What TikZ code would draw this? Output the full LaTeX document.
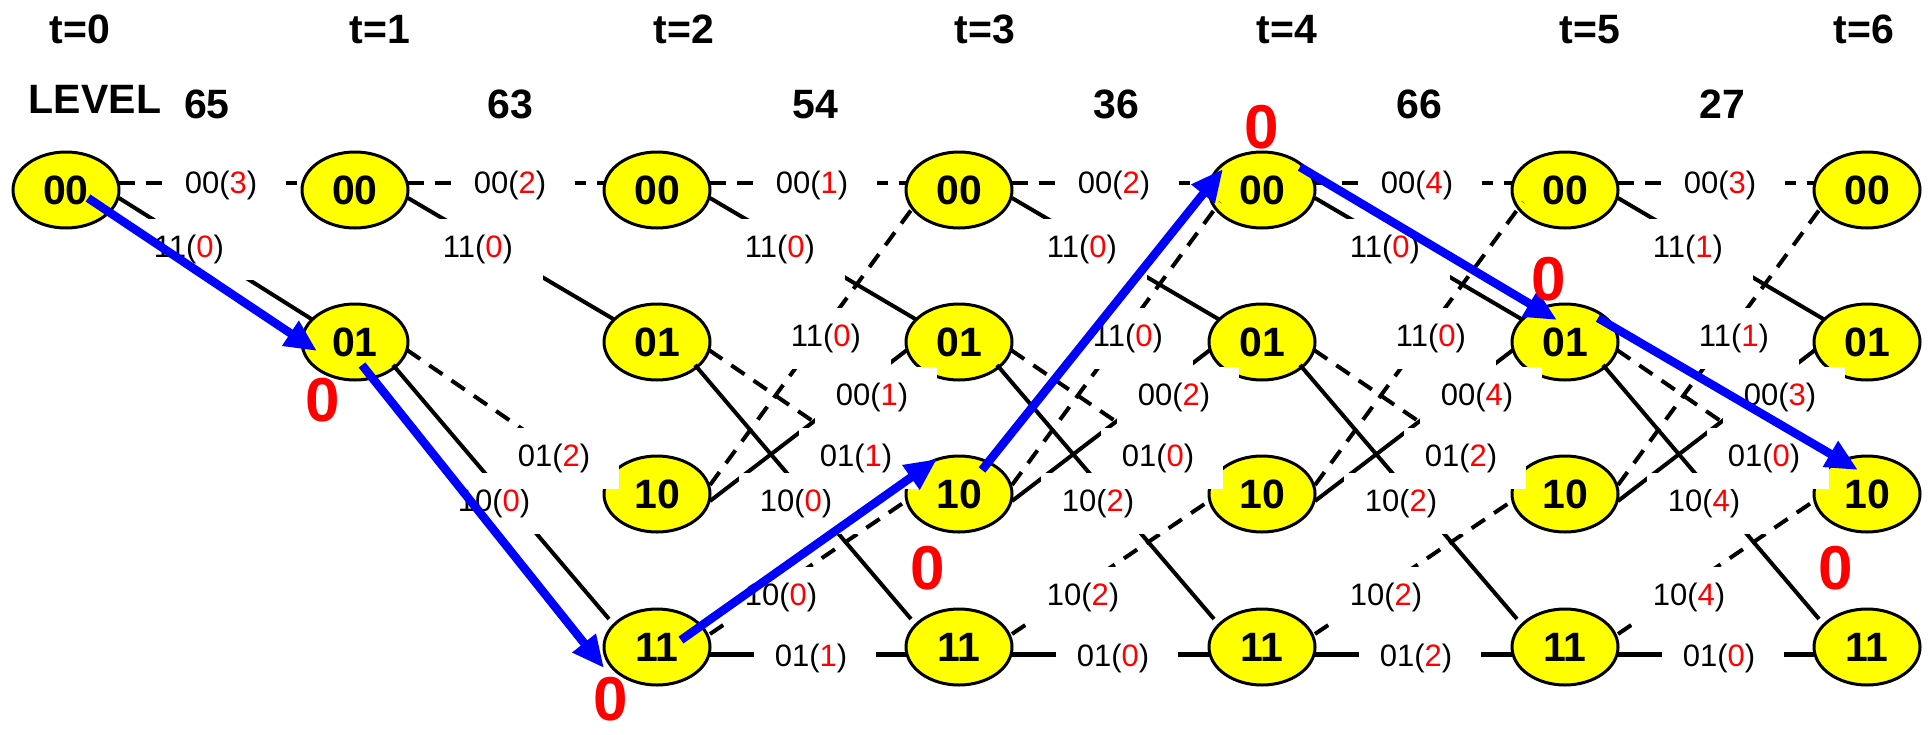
\documentclass[tikz,border=0pt]{standalone}
\usepackage{fontspec}
\setmainfont{Liberation Sans}
\usetikzlibrary{arrows.meta,shapes.geometric}
\definecolor{ylw}{RGB}{255,255,0}
\definecolor{rd}{RGB}{255,0,0}
\definecolor{bl}{RGB}{0,0,255}
\newcommand\lbx[5]{\node[lab] (#1) at (#2+4,#3+2) {\hspace{-8pt}#4(\textcolor{rd}{#5})};}
\begin{document}
\begin{tikzpicture}[x=1pt,y=-1pt,
  st/.style={ellipse, draw=black, line width=3pt, fill=ylw, minimum width=106pt, minimum height=76pt, inner sep=0pt, font=\fontsize{41}{41}\selectfont\bfseries},
  sol/.style={line width=4pt, draw=black},
  hsol/.style={line width=5pt, draw=black},
  dsh/.style={line width=4pt, draw=black, dash pattern=on 16pt off 11pt},
  hdsh/.style={line width=4.5pt, draw=black, dash pattern=on 16pt off 11pt},
  lab/.style={fill=white, inner sep=0pt, minimum width=122pt, minimum height=61pt, font=\fontsize{31}{31}\selectfont},
  hd/.style={font=\fontsize{41}{41}\selectfont\bfseries, anchor=base, inner sep=0pt},
  zr/.style={font=\fontsize{62}{62}\selectfont\bfseries, text=rd, inner sep=0pt},
  vpath/.style={line width=8.5pt, draw=bl, -{Triangle[length=32pt,width=28pt]}}]
\useasboundingbox (0,0) rectangle (1930,734);
% states
\node[st] (nA0) at (66,190) {00};
\foreach \k/\x in {1/355,2/657,3/959,4/1262,5/1565,6/1867}{
  \node[st] (nA\k) at (\x,190) {00};
  \node[st] (nB\k) at (\x,342) {01};
}
\foreach \k/\x in {2/657,3/959,4/1262,5/1565,6/1867}{
  \node[st] (nC\k) at (\x,494) {10};
  \node[st] (nD\k) at (\x,647) {11};
}
% transitions
\foreach \k/\j in {0/1,1/2,2/3,3/4,4/5,5/6}{
  \draw[hdsh] ([shift={(53,-7)}]nA\k.center) -- ([shift={(-53,-7)}]nA\j.center);
  \draw[sol] ([shift={(53,8)}]nA\k.center) -- ([shift={(-42,-22)}]nB\j.center);
}
\foreach \k/\j in {1/2,2/3,3/4,4/5,5/6}{
  \draw[dsh] ([shift={(52,8)}]nB\k.center) -- ([shift={(-53,-9)}]nC\j.center);
  \draw[sol] ([shift={(38,23)}]nB\k.center) -- ([shift={(-48,-28)}]nD\j.center);
}
\foreach \k/\j in {2/3,3/4,4/5,5/6}{
  \draw[dsh] ([shift={(53,-9)}]nC\k.center) -- ([shift={(-42,12)}]nA\j.center);
  \draw[sol] ([shift={(53,7)}]nC\k.center) -- ([shift={(-52,8)}]nB\j.center);
  \draw[dsh] ([shift={(53,-13)}]nD\k.center) -- ([shift={(-53,7)}]nC\j.center);
  \draw[hsol] ([shift={(53,7)}]nD\k.center) -- ([shift={(-53,7)}]nD\j.center);
}
% labels
\lbx{la0}{66+155}{183}{00}{3}
\lbx{lb0}{66+123}{247}{11}{0}
\lbx{la1}{355+155}{183}{00}{2}
\lbx{lb1}{355+123}{247}{11}{0}
\lbx{lf1}{355+139}{501}{10}{0}
\lbx{le1}{355+199}{456}{01}{2}
\foreach \k/\x/\va/\vb/\vc/\vd/\ve/\vf/\vg/\vh in
  {2/657/1/0/0/1/1/0/0/1, 3/959/2/0/0/2/0/2/2/0, 4/1262/4/0/0/4/2/2/2/2, 5/1565/3/1/1/3/0/4/4/0}{
  \lbx{la\k}{\x+155}{183}{00}{\va}
  \lbx{lb\k}{\x+123}{247}{11}{\vb}
  \lbx{lc\k}{\x+169}{336}{11}{\vc}
  \lbx{ld\k}{\x+215}{395}{00}{\vd}
  \lbx{lf\k}{\x+139}{501}{10}{\vf}
  \lbx{le\k}{\x+199}{456}{01}{\ve}
  \lbx{lg\k}{\x+124}{595}{10}{\vg}
  \lbx{lh\k}{\x+154}{656}{01}{\vh}
}
% survivor path
\draw[vpath] ([shift={(22,8)}]nA0.center) -- ([shift={(-38,9)}]nB1.center);
\draw[vpath] ([shift={(7,23)}]nB1.center) -- ([shift={(-53,21)}]nD2.center);
\draw[vpath] ([shift={(24,-7)}]nD2.center) -- ([shift={(-22,-35)}]nC3.center);
\draw[vpath] ([shift={(23,-24)}]nC3.center) -- ([shift={(-39,-21)}]nA4.center);
\draw[vpath] ([shift={(38,-23)}]nA4.center) -- ([shift={(-8,-22)}]nB5.center);
\draw[vpath] ([shift={(33,-24)}]nB5.center) -- ([shift={(-9,-24)}]nC6.center);
% headings
\node[hd] (t0) at (80,43) {t=0};
\node[hd] (t1) at (380,43) {t=1};
\node[hd] (t2) at (684,43) {t=2};
\node[hd] (t3) at (985,43) {t=3};
\node[hd] (t4) at (1287,43) {t=4};
\node[hd] (t5) at (1590,43) {t=5};
\node[hd] (t6) at (1864,43) {t=6};
\node[hd] (lev) at (95,113) {LEVEL};
\node[hd] (v0) at (207,118) {65};
\node[hd] (v1) at (510,118) {63};
\node[hd] (v2) at (815,118) {54};
\node[hd] (v3) at (1116,118) {36};
\node[hd] (v4) at (1419,118) {66};
\node[hd] (v5) at (1722,118) {27};
% zeros
\node[zr] (z1) at (323,400) {0};
\node[zr] (z2) at (611,699) {0};
\node[zr] (z3) at (928,568) {0};
\node[zr] (z4) at (1262,127) {0};
\node[zr] (z5) at (1549,279) {0};
\node[zr] (z6) at (1836,568) {0};
\end{tikzpicture}
\end{document}
